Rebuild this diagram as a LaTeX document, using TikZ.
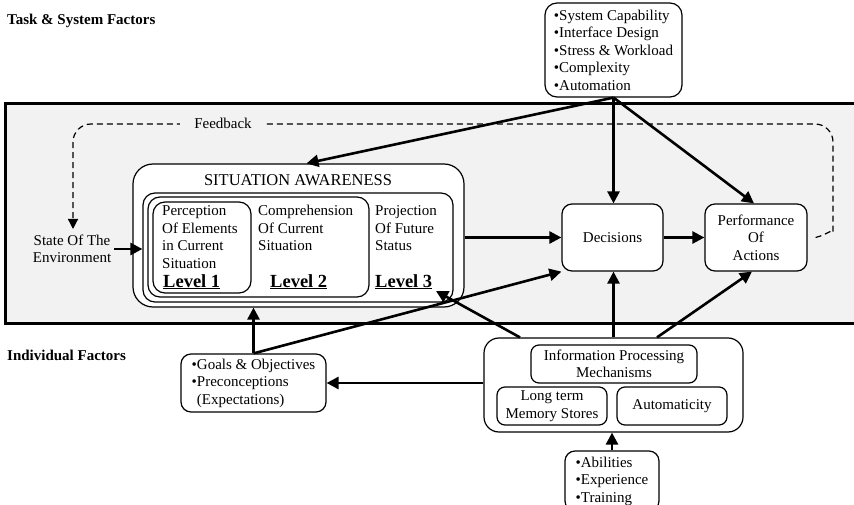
\documentclass[tikz,border=0pt]{standalone}
\usepackage{fontspec}
\setmainfont{Liberation Serif}
\usetikzlibrary{arrows.meta}
\definecolor{bandgray}{HTML}{F2F2F2}
% left-aligned and centred line stacks whose baseline is the first line
\newcommand\stackL[1]{\begin{tabular}[t]{@{}l@{}}#1\end{tabular}}
\newcommand\stackC[1]{\begin{tabular}[t]{@{}c@{}}#1\end{tabular}}

\begin{document}
\begin{tikzpicture}[x=1pt,y=-1pt,
  txt/.style={font=\fontsize{15}{17.5}\selectfont},
  lvl/.style={font=\fontsize{18.5}{20}\selectfont\bfseries, anchor=base west, inner sep=0pt},
  box/.style={draw, line width=1.2pt, fill=white, rounded corners=#1, inner sep=0pt},
  box/.default=10pt,
  conn/.style={line width=2.6pt, -{Triangle[length=12pt,width=12pt]}},
  fb/.style={line width=1.2pt, dash pattern=on 6pt off 4pt, -{Triangle[length=10pt,width=10pt]}},
]
\useasboundingbox (0,0) rectangle (854,505);

% shaded band of the core loop
\draw[line width=3pt, fill=bandgray] (5,104) rectangle (862,323);

% headings
\node[font=\fontsize{15}{18}\selectfont\bfseries, anchor=base west, inner sep=0pt] (hdtask) at (7,25) {Task \& System Factors};
\node[font=\fontsize{15}{18}\selectfont\bfseries, anchor=base west, inner sep=0pt] (hdind) at (7,360) {Individual Factors};

% task & system factors
\node[box=12pt, txt, minimum width=137pt, minimum height=94pt, align=left] (tsf) at (613.5,50)
  {•System Capability\\•Interface Design\\•Stress \& Workload\\•Complexity\\•Automation};

% environment
\node[txt, align=center, inner sep=3pt] (state) at (72,249) {State Of The\\Environment};

% situation awareness block
\node[box=20pt, minimum width=331pt, minimum height=143pt] (sa) at (298.5,235.5) {};
\node[font=\fontsize{16.5}{20}\selectfont, anchor=base, inner sep=0pt] (satitle) at (298,186) {SITUATION AWARENESS};
\node[box=12pt, minimum width=310pt, minimum height=109pt] (lvA) at (298,247.5) {};
\node[box=12pt, minimum width=221pt, minimum height=100pt] (lvB) at (258.5,247) {};
\node[box=12pt, minimum width=98pt, minimum height=91pt] (lvC) at (202,247.5) {};

\node[txt, anchor=base west, inner sep=0pt] (perc) at (162,216) {\stackL{Perception\\Of Elements\\in Current\\Situation}};
\node[txt, anchor=base west, inner sep=0pt] (comp) at (258,216) {\stackL{Comprehension\\Of Current\\Situation}};
\node[txt, anchor=base west, inner sep=0pt] (proj) at (375,216) {\stackL{Projection\\Of Future\\Status}};
\node[lvl] (l1) at (163,287) {\underline{Level 1}};
\node[lvl] (l2) at (270,287) {\underline{Level 2}};
\node[lvl] (l3) at (375,287) {\underline{Level 3}};

% decisions and actions
\node[box, txt, minimum width=101pt, minimum height=67pt] (dec) at (612.5,237.5) {Decisions};
\node[box, txt, minimum width=102pt, minimum height=67pt, align=center] (perf) at (756,237.5) {Performance\\Of\\Actions};

% individual factors
\node[box, txt, minimum width=145pt, minimum height=58pt, align=left] (goals) at (253.5,383)
  {•Goals \& Objectives\\•Preconceptions\\\phantom{•}(Expectations)};
\node[box=15pt, minimum width=259pt, minimum height=94pt] (ip) at (613.5,385) {};
\node[box=8pt, txt, minimum width=166pt, minimum height=38pt, align=center] (ipm) at (614,364) {Information Processing\\Mechanisms};
\node[box=8pt, txt, minimum width=110pt, minimum height=38pt, align=center] (ltm) at (552,406) {Long term\\Memory Stores};
\node[box=8pt, txt, minimum width=110pt, minimum height=38pt] (aut) at (672,406) {Automaticity};
\node[box, txt, minimum width=94pt, minimum height=60pt, align=left] (abil) at (612,481)
  {•Abilities\\•Experience\\•Training};

% feedback loop
\draw[fb, rounded corners=18pt] ([xshift=8pt]perf.east) .. controls (829,234) and (833,228) .. (833,214)
  -- (833,124) -- (73,124) -- (73,229);
\node[txt, fill=bandgray, inner xsep=14pt, inner ysep=2pt] (fblabel) at (223,123) {Feedback};

% connectors
\coordinate (l3tip) at (436,291);
\draw[conn] (state.east) -- (state.east -| lvA.west);
\draw[conn] (tsf.south) -- ([xshift=8pt]sa.north);
\draw[conn] (tsf.south) -- (tsf.south |- dec.north);
\draw[conn] (tsf.south) -- ([xshift=-2pt]perf.north);
\draw[conn] (sa.east |- dec.west) -- (dec.west);
\draw[conn] (dec.east) -- (perf.west);
\draw[conn] (goals.north) -- (goals.north |- sa.south);
\draw[conn] (goals.north) -- (dec.south west);
\draw[conn] (ip.west |- goals.east) -- (goals.east);
\draw[conn] ([xshift=-93.5pt]ip.north) -- (l3tip);
\draw[conn] (ip.north) -- (ip.north |- dec.south);
\draw[conn] ([xshift=43.5pt]ip.north) -- ([xshift=-4pt]perf.south);
\draw[conn] (abil.north) -- (abil.north |- ip.south);
\end{tikzpicture}
\end{document}
